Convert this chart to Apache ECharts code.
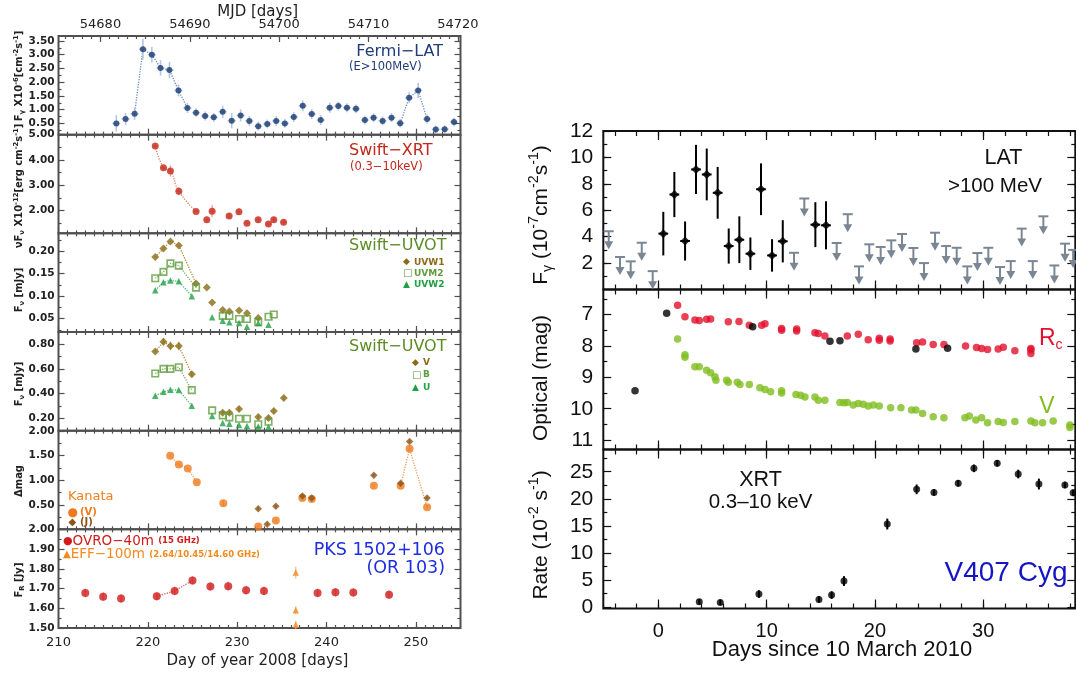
<!DOCTYPE html>
<html><head><meta charset="utf-8">
<script src="https://cdn.jsdelivr.net/npm/echarts@6/dist/echarts.min.js"></script>
<style>html,body{margin:0;padding:0;background:#fff}#c{width:1076px;height:677px}</style>
</head><body><div id="c"></div>
<script>
// ================= LEFT FIGURE : PKS 1502+106 (x = day of year 2008) =================
const fermiDay  = [216.47,217.51,218.52,219.45,220.45,221.42,222.42,223.43,224.43,225.40,226.41,227.38,228.38,229.39,230.39,231.36,232.36,233.37,234.37,235.34,236.34,237.34,238.35,239.35,240.36,241.33,242.29,243.30,244.30,245.27,246.28,247.28,248.25,249.25,250.26,251.26,252.23,253.23,254.27];
const fermiFlux = [0.50,0.66,0.85,3.20,3.00,2.52,2.44,1.70,1.06,0.89,0.77,0.72,0.92,0.60,0.79,0.59,0.40,0.48,0.59,0.50,0.73,1.14,0.84,0.62,1.07,1.13,1.07,1.03,0.62,0.71,0.59,0.71,0.51,1.43,1.70,0.66,0.28,0.29,0.55];
const fermiErr  = [0.30,0.22,0.22,0.38,0.28,0.28,0.30,0.22,0.18,0.16,0.16,0.16,0.22,0.28,0.22,0.18,0.16,0.16,0.18,0.16,0.18,0.20,0.18,0.18,0.18,0.16,0.16,0.16,0.16,0.16,0.16,0.16,0.16,0.20,0.28,0.16,0.14,0.14,0.16];

const xrtDay  = [220.83,221.75,222.53,223.47,225.40,226.60,227.20,229.10,230.20,231.10,232.35,233.50,234.10,235.20];
const xrtFlux = [4.55,3.69,3.56,2.76,1.96,1.63,1.97,1.78,1.95,1.49,1.63,1.46,1.63,1.53];
const xrtErr  = [0.08,0.08,0.22,0.16,0.06,0.12,0.24,0.12,0.12,0.10,0.10,0.10,0.12,0.10];

const uvw1Day = [220.83,221.75,222.53,223.47,225.40,226.60,227.20,228.38,229.13,230.21,231.10,232.36];
const uvw1    = [0.187,0.206,0.222,0.213,0.128,0.119,0.086,0.069,0.066,0.068,0.062,0.051];
const uvm2Day = [220.83,221.75,222.53,223.47,225.40,228.38,229.13,230.21,231.10,232.36,233.51,234.10];
const uvm2    = [0.140,0.154,0.173,0.168,0.119,0.056,0.056,0.049,0.049,0.042,0.054,0.059];
const uvw2Day = [220.83,221.75,222.53,223.47,224.92,227.20,228.38,229.13,230.21,231.10,232.36,233.51];
const uvw2    = [0.113,0.131,0.135,0.133,0.100,0.053,0.045,0.042,0.040,0.032,0.040,0.036];

const uvVDay = [220.83,221.75,222.53,223.47,224.92,228.38,229.13,230.21,232.36,233.51,234.10,235.22];
const uvV    = [0.741,0.821,0.787,0.787,0.558,0.246,0.246,0.275,0.211,0.203,0.259,0.364];
const uvVErr = [0.012,0.030,0.035,0.035,0.020,0.015,0.015,0.020,0.020,0.020,0.015,0.015];
const uvBDay = [220.83,221.75,222.53,223.47,224.92,227.20,228.38,229.13,230.21,231.10,232.36,233.51];
const uvB    = [0.563,0.601,0.601,0.614,0.429,0.265,0.224,0.208,0.197,0.197,0.152,0.173];
const uvUDay = [220.83,221.75,222.53,223.47,224.92,227.20,228.38,229.13,230.21,231.10,232.36,233.51];
const uvU    = [0.383,0.415,0.431,0.429,0.302,0.219,0.162,0.157,0.146,0.138,0.133,0.130];

const kanVDay = [222.50,223.47,224.47,225.48,228.45,232.36,234.33,237.30,238.35,245.30,248.30,249.30,251.26];
const kanV    = [1.50,1.32,1.24,0.96,0.53,0.06,0.18,0.64,0.62,0.89,0.89,1.64,0.45];
const kanVErr = [0.02,0.02,0.02,0.02,0.06,0.04,0.03,0.03,0.03,0.03,0.03,0.05,0.03];
const kanJDay = [232.36,233.36,234.33,237.30,238.35,245.30,248.30,249.30,251.26];
const kanJ    = [0.42,0.105,0.47,0.68,0.64,1.10,0.94,1.79,0.64];
const kanJErr = [0.03,0.03,0.03,0.03,0.03,0.03,0.03,0.03,0.03];

const ovroDay  = [213,215,217,221,223,225,227,229,231,233,239,241,243,247];
const ovroFlux = [1.678,1.659,1.649,1.661,1.688,1.741,1.710,1.712,1.692,1.688,1.678,1.681,1.680,1.669];
const ovroErr  = [0.022,0.022,0.022,0.022,0.022,0.022,0.022,0.022,0.022,0.022,0.022,0.022,0.022,0.022];
const effDay   = [236.56,236.56,236.56];
const effFlux  = [1.781,1.590,1.517];
const effErr   = [0.030,0.020,0.020];

// tick labels (left)
const doyTicks = [210,220,230,240,250];
const mjdTicks = [54680,54690,54700,54710,54720];
const leftYTicks = [[0.5,1,1.5,2,2.5,3,3.5],[2,3,4,5],[0.05,0.10,0.15,0.20],[0.2,0.4,0.6,0.8],[0.5,1,1.5,2],[1.5,1.6,1.7,1.8,1.9,2.0]];
const leftYRange = [[0.09,3.68],[1.09,5.0],[0.02,0.24],[0.10,0.90],[0.0,2.01],[1.5,2.0]];

// ================= RIGHT FIGURE : V407 Cyg (x = days since 10 March 2010) =================
const latDay  = [0.46,1.48,2.47,3.48,4.47,5.48,6.50,7.48,8.50,9.48,10.50,11.49,14.50,15.48];
const latFlux = [4.23,7.19,3.67,9.09,8.71,7.32,3.29,3.77,2.71,7.59,2.58,3.65,4.91,4.86];
const latErr  = [1.65,1.71,1.48,1.86,1.96,1.96,1.33,1.77,1.23,1.96,1.23,1.60,1.70,1.82];
const ulDay   = [-4.58,-3.54,-2.55,-1.53,-0.52,12.53,13.48,16.47,17.49,18.53,19.48,20.53,21.51,22.50,23.55,24.53,25.55,26.57,27.55,28.53,29.46,30.47,31.55,32.54,33.55,34.57,35.55,36.57,37.55,38.30];
const ulFlux  = [4.41,2.46,2.13,3.54,1.39,2.78,6.89,3.52,5.70,1.75,3.42,3.22,3.72,4.20,3.14,2.00,4.30,3.29,3.16,1.75,2.76,3.16,1.70,2.15,4.61,2.15,5.54,1.82,3.47,3.00];

const othDay = [-2.15,0.77,8.71,15.85,16.77,23.78,26.71];
const othMag = [9.43,6.96,7.39,7.85,7.83,8.10,8.07];
const rcDay = [1.78,2.46,3.38,3.78,4.46,4.83,6.46,7.45,8.40,9.54,9.85,11.38,11.38,12.77,12.77,14.46,14.77,15.38,17.45,18.46,19.38,20.40,20.40,21.40,21.40,23.85,24.40,25.38,26.37,28.37,29.38,29.85,30.40,31.38,31.85,32.92,34.40,34.40,34.40];
const rcMag = [6.70,7.07,7.17,7.19,7.15,7.14,7.23,7.22,7.34,7.34,7.29,7.44,7.50,7.46,7.52,7.58,7.60,7.68,7.68,7.63,7.80,7.75,7.82,7.78,7.84,7.90,7.87,7.95,7.95,8.00,8.05,8.08,8.11,8.10,8.04,8.15,8.08,8.13,8.24];
const optVDay = [1.78,2.46,2.46,3.38,3.78,4.46,4.83,5.23,5.32,6.31,6.46,7.29,7.54,8.40,9.38,9.85,10.37,11.38,11.38,12.71,13.14,13.54,14.46,14.77,15.38,16.77,17.14,17.45,18.00,18.46,18.92,19.38,19.85,20.40,21.45,22.40,23.38,23.78,24.40,25.38,26.37,28.31,28.71,29.32,29.85,30.40,31.38,31.85,32.92,34.40,34.77,35.48,36.46,38.00,38.00];
const optVMag = [7.78,8.28,8.36,8.66,8.66,8.77,8.85,8.98,9.09,9.09,9.16,9.16,9.23,9.23,9.33,9.39,9.46,9.43,9.50,9.55,9.57,9.63,9.63,9.73,9.73,9.80,9.81,9.80,9.88,9.83,9.86,9.91,9.88,9.91,9.97,9.97,10.04,10.04,10.15,10.26,10.29,10.29,10.23,10.36,10.29,10.45,10.41,10.44,10.41,10.39,10.45,10.45,10.39,10.52,10.60];

const xrt2Day  = [3.78,5.72,9.29,14.83,16.00,17.14,21.14,23.85,25.45,27.69,29.14,31.29,33.23,35.14,37.54,38.30];
const xrt2Rate = [1.00,0.88,2.42,1.43,2.23,4.82,15.34,21.74,21.18,22.85,25.62,26.54,24.57,22.72,22.54,21.10];
const xrt2Err  = [0.5,0.5,0.7,0.6,0.7,0.9,1.0,0.9,0.6,0.6,0.7,0.6,0.8,1.0,0.6,0.6];

// tick labels (right)
const dayTicks = [0,10,20,30];
const rightYTicks = [[2,4,6,8,10,12],[7,8,9,10,11],[0,5,10,15,20,25]];
const rightYRange = [[0,12],[6.2,11.3],[-0.25,29.1]];

// ================= LAYOUT / STYLE =================
const FL = 'DejaVu Sans', FR = 'Liberation Sans';
const LCOL = '#505050', RCOL = '#111';
const MJD_OFF = 54465.3;
const L_LEFT = 58.5, L_W = 402, L_TOP = 36, L_H = 98.67;
const R_LEFT = 603.3, R_W = 472, R_TOPS = [131, 289.5, 449.5], R_HS = [158.5, 160, 159];
const R_XMIN = -5.08, R_XMAX = 38.5;

const grids = [], xAxis = [], yAxis = [];
function range(a, b, s) { const r = []; for (let v = a; v <= b + 1e-9; v += s) r.push(+v.toFixed(4)); return r; }
function pushPair(list, base, major, minor, majLen, minLen, color, lab) {
  const i = list.length;
  list.push(Object.assign({type:'value', axisLine:{show:false, onZero:false}, splitLine:{show:false},
    axisTick:{show:true, inside:true, length:majLen, customValues:major, lineStyle:{color, width:1.2}},
    axisLabel: lab ? Object.assign({show:true, customValues:lab.values}, lab.style) : {show:false}}, base));
  list.push(Object.assign({type:'value', axisLine:{show:false, onZero:false}, splitLine:{show:false},
    axisTick:{show:true, inside:true, length:minLen, customValues:minor, lineStyle:{color, width:1.2}},
    axisLabel:{show:false}}, base));
  return i;
}
const leftAx = [], rightAx = [];
for (let p = 0; p < 6; p++) {
  grids.push({left:L_LEFT, top:L_TOP + p*L_H, width:L_W, height:L_H, show:true, borderColor:LCOL, borderWidth:2, backgroundColor:'transparent'});
  const xb = pushPair(xAxis, {gridIndex:p, position:'bottom', min:210, max:255}, doyTicks, range(211,254,1), 6, 3, LCOL,
    p === 5 ? {values:doyTicks, style:{fontFamily:FL, fontSize:13, color:'#222', margin:8, formatter:v=>String(Math.round(v))}} : null);
  if (p === 0) {
    pushPair(xAxis, {gridIndex:p, position:'top', min:210+MJD_OFF, max:255+MJD_OFF}, mjdTicks, range(54676,54720,1), 6, 3, LCOL,
      {values:mjdTicks, style:{fontFamily:FL, fontSize:13, color:'#222', margin:5, formatter:v=>String(Math.round(v))}});
  } else {
    pushPair(xAxis, {gridIndex:p, position:'top', min:210, max:255}, doyTicks, range(211,254,1), 6, 3, LCOL, null);
  }
  const mj = leftYTicks[p], st = mj[1]-mj[0];
  const mn = []; mj.forEach(v => { [v-st/2, v+st/2].forEach(w => { if (w > leftYRange[p][0] && w < leftYRange[p][1] && mn.indexOf(+w.toFixed(4)) < 0) mn.push(+w.toFixed(4)); }); });
  const yl = pushPair(yAxis, {gridIndex:p, position:'left', min:leftYRange[p][0], max:leftYRange[p][1]}, mj, mn, 6, 3, LCOL,
    {values:mj, style:{fontFamily:FL, fontWeight:'bold', fontSize:10.5, color:'#222', margin:4, formatter:v=>v.toFixed(2)}});
  pushPair(yAxis, {gridIndex:p, position:'right', min:leftYRange[p][0], max:leftYRange[p][1]}, mj, mn, 6, 3, LCOL, null);
  leftAx.push({x:xb, y:yl});
}
const rMinorY = [range(1,11,1), range(6.5,10.5,1), range(2.5,27.5,5)];
for (let q = 0; q < 3; q++) {
  const g = 6 + q;
  grids.push({left:R_LEFT, top:R_TOPS[q], width:R_W, height:R_HS[q], show:true, borderColor:RCOL, borderWidth:2, backgroundColor:'transparent'});
  const xb = pushPair(xAxis, {gridIndex:g, position:'bottom', min:R_XMIN, max:R_XMAX}, dayTicks, range(-4,38,2), 9, 5, RCOL,
    q === 2 ? {values:dayTicks, style:{fontFamily:FR, fontSize:20, color:'#111', margin:13, formatter:v=>String(Math.round(v))}} : null);
  pushPair(xAxis, {gridIndex:g, position:'top', min:R_XMIN, max:R_XMAX}, dayTicks, range(-4,38,2), 9, 5, RCOL, null);
  const yl = pushPair(yAxis, {gridIndex:g, position:'left', min:rightYRange[q][0], max:rightYRange[q][1], inverse: q === 1}, rightYTicks[q], rMinorY[q], 8, 4, RCOL,
    {values:rightYTicks[q], style:{fontFamily:FR, fontSize:21, color:'#111', margin:10, formatter:v=>String(v)}});
  pushPair(yAxis, {gridIndex:g, position:'right', min:rightYRange[q][0], max:rightYRange[q][1], inverse: q === 1}, rightYTicks[q], rMinorY[q], 8, 4, RCOL, null);
  rightAx.push({x:xb, y:yl});
}

// ================= SERIES HELPERS =================
const series = [];
function pts(xs, ys) { return xs.map((x, i) => [x, ys[i]]); }
function scatter(ax, xs, ys, symbol, size, itemStyle, z) {
  series.push({type:'scatter', xAxisIndex:ax.x, yAxisIndex:ax.y, data:pts(xs, ys), symbol, symbolSize:size, itemStyle, silent:true, animation:false, z:z||4});
}
function dotted(ax, xs, ys, color, smooth) {
  series.push({type:'line', xAxisIndex:ax.x, yAxisIndex:ax.y, data:pts(xs, ys), symbol:'none', smooth:!!smooth, silent:true, animation:false, z:2,
    lineStyle:{type:'dotted', color, width:1.3}});
}
function errs(ax, xs, ys, es, exHalf, color, w) {
  series.push({type:'custom', xAxisIndex:ax.x, yAxisIndex:ax.y, silent:true, animation:false, z:3,
    data: xs.map((x, i) => [x, ys[i], es ? es[i] : 0]),
    renderItem: (params, api) => {
      const x = api.value(0), y = api.value(1), e = api.value(2), ch = [];
      if (e > 0) { const a = api.coord([x, y - e]), b = api.coord([x, y + e]);
        ch.push({type:'line', shape:{x1:a[0], y1:a[1], x2:b[0], y2:b[1]}, style:{stroke:color, lineWidth:w}}); }
      if (exHalf > 0) { const a = api.coord([x - exHalf, y]), b = api.coord([x + exHalf, y]);
        ch.push({type:'line', shape:{x1:a[0], y1:a[1], x2:b[0], y2:b[1]}, style:{stroke:color, lineWidth:w}}); }
      return {type:'group', children:ch};
    }});
}

// ---- left panels ----
const A = leftAx;
// Fermi
errs(A[0], fermiDay, fermiFlux, fermiErr, 0.45, '#b4c6e4', 1.6);
dotted(A[0], fermiDay.slice(2, 9), fermiFlux.slice(2, 9), '#6f8fc4');
dotted(A[0], fermiDay.slice(32, 36), fermiFlux.slice(32, 36), '#6f8fc4');
scatter(A[0], fermiDay, fermiFlux, 'circle', 6, {color:'#173a6e'});
// XRT
errs(A[1], xrtDay, xrtFlux, xrtErr, 0.3, '#eaa898', 1.4);
dotted(A[1], xrtDay.slice(0, 5), xrtFlux.slice(0, 5), '#e08070', true);
scatter(A[1], xrtDay, xrtFlux, 'circle', 7, {color:'#c8281c'});
// UVOT UV
dotted(A[2], uvw1Day.slice(0, 5), uvw1.slice(0, 5), '#b09040');
dotted(A[2], uvm2Day.slice(0, 5), uvm2.slice(0, 5), '#80b060');
dotted(A[2], uvw2Day.slice(0, 5), uvw2.slice(0, 5), '#50b870');
scatter(A[2], uvw1Day, uvw1, 'diamond', 8, {color:'#8a6a14'});
scatter(A[2], uvm2Day, uvm2, 'rect', 6.5, {color:'rgba(255,255,255,0)', borderColor:'#5f9c3c', borderWidth:1.6});
scatter(A[2], uvw2Day, uvw2, 'triangle', 6.5, {color:'#1fa044'});
// UVOT optical
errs(A[3], uvVDay, uvV, uvVErr, 0, '#c8b080', 1.4);
dotted(A[3], uvVDay.slice(0, 5), uvV.slice(0, 5), '#b09040');
dotted(A[3], uvBDay.slice(0, 5), uvB.slice(0, 5), '#80b060');
dotted(A[3], uvUDay.slice(0, 5), uvU.slice(0, 5), '#50b870');
scatter(A[3], uvVDay, uvV, 'diamond', 8, {color:'#8a6a14'});
scatter(A[3], uvBDay, uvB, 'rect', 6.5, {color:'rgba(255,255,255,0)', borderColor:'#5f9c3c', borderWidth:1.6});
scatter(A[3], uvUDay, uvU, 'triangle', 6.5, {color:'#1fa044'});
// Kanata
errs(A[4], kanVDay, kanV, kanVErr, 0, '#f4b080', 1.4);
errs(A[4], kanJDay, kanJ, kanJErr, 0, '#c09060', 1.4);
dotted(A[4], kanVDay.slice(0, 4), kanV.slice(0, 4), '#f0a060');
dotted(A[4], kanVDay.slice(10, 13), kanV.slice(10, 13), '#f0a060');
scatter(A[4], kanVDay, kanV, 'circle', 8, {color:'#ef7a1c'});
scatter(A[4], kanJDay, kanJ, 'diamond', 7.5, {color:'#8c5418'});
// Radio
errs(A[5], ovroDay, ovroFlux, ovroErr, 0, '#f0a0a0', 1.4);
errs(A[5], effDay, effFlux, effErr, 0, '#f8c090', 1.4);
dotted(A[5], ovroDay.slice(3, 6), ovroFlux.slice(3, 6), '#e06060');
scatter(A[5], ovroDay, ovroFlux, 'circle', 8, {color:'#d01c1c'});
scatter(A[5], effDay, effFlux, 'triangle', 6.5, {color:'#f28a1e'});

// ---- right panels ----
const B = rightAx;
errs(B[0], latDay, latFlux, latErr, 0.45, '#000', 2);
scatter(B[0], latDay, latFlux, 'diamond', 9, {color:'#000'});
series.push({type:'custom', xAxisIndex:B[0].x, yAxisIndex:B[0].y, silent:true, animation:false, z:3,
  data: pts(ulDay, ulFlux),
  renderItem: (params, api) => {
    const p = api.coord([api.value(0), api.value(1)]), c = '#7a8693';
    return {type:'group', children:[
      {type:'line', shape:{x1:p[0]-5, y1:p[1], x2:p[0]+5, y2:p[1]}, style:{stroke:c, lineWidth:2}},
      {type:'line', shape:{x1:p[0], y1:p[1], x2:p[0], y2:p[1]+12}, style:{stroke:c, lineWidth:2}},
      {type:'polygon', shape:{points:[[p[0]-4.5, p[1]+10], [p[0]+4.5, p[1]+10], [p[0], p[1]+18]]}, style:{fill:c}}
    ]};
  }});
scatter(B[1], rcDay, rcMag, 'circle', 7.5, {color:'#e2102c'});
scatter(B[1], optVDay, optVMag, 'circle', 7.5, {color:'#80bd1e'});
scatter(B[1], othDay, othMag, 'circle', 7.5, {color:'#000'}, 5);
errs(B[2], xrt2Day, xrt2Rate, xrt2Err, 0, '#000', 2);
scatter(B[2], xrt2Day, xrt2Rate, 'circle', 7, {color:'#000'});

// ================= TEXTS =================
function txt(x, y, text, o) {
  return {type:'text', x, y, rotation:o.rot || 0, silent:true, z:100,
    style:{text, fill:o.color || '#222', fontSize:o.size, fontFamily:o.family || FL, fontWeight:o.weight || 'normal',
      align:o.align || 'center', textAlign:o.align || 'center', verticalAlign:'middle', textVerticalAlign:'middle', rich:o.rich}};
}
function richSet(size, family, weight, color) {
  return {
    n: {fontSize:size, fontFamily:family, fontWeight:weight, fill:color, lineHeight:size*1.3},
    sp:{fontSize:size*0.68, fontFamily:family, fontWeight:weight, fill:color, lineHeight:size*0.7, verticalAlign:'top'},
    sb:{fontSize:size*0.68, fontFamily:family, fontWeight:weight, fill:color, lineHeight:size*0.7, verticalAlign:'bottom'}
  };
}
const RL = richSet(10, FL, 'bold', '#222');
const RR = richSet(21, FR, 'normal', '#111');
const R90 = Math.PI / 2;
const graphics = [
  txt(257.7, 12.5, 'MJD [days]', {size:15}),
  txt(257.5, 661, 'Day of year 2008 [days]', {size:15}),
  txt(19, 76, '{n|F}{sb|γ}{n| X10}{sp|-6}{n|[cm}{sp|-2}{n|s}{sp|-1}{n|]}', {rot:R90, rich:RL}),
  txt(19, 186, '{n|νF}{sb|ν}{n| X10}{sp|-12}{n|[erg cm}{sp|-2}{n|s}{sp|-1}{n|]}', {rot:R90, rich:RL}),
  txt(19, 290, '{n|F}{sb|ν}{n| [mJy]}', {rot:R90, rich:RL}),
  txt(19, 384, '{n|F}{sb|ν}{n| [mJy]}', {rot:R90, rich:RL}),
  txt(19, 481, '{n|Δmag}', {rot:R90, rich:RL}),
  txt(19, 580, '{n|F}{sb|R}{n| [Jy]}', {rot:R90, rich:RL}),
  txt(443, 52, 'Fermi−LAT', {size:16, color:'#1f3d78', align:'right'}),
  txt(349, 67.5, '(E>100MeV)', {size:11.5, color:'#1f3d78', align:'left'}),
  txt(349, 151, 'Swift−XRT', {size:16, color:'#c0281a', align:'left'}),
  txt(350, 167, '(0.3−10keV)', {size:11.5, color:'#c0281a', align:'left'}),
  txt(349, 246, 'Swift−UVOT', {size:16, color:'#5c8c24', align:'left'}),
  txt(403, 262, '◆', {size:9, color:'#8a6a14', align:'left'}),
  txt(414, 262.5, 'UVW1', {size:9, weight:'bold', color:'#8a6a14', align:'left'}),
  txt(403, 273.5, '□', {size:10, weight:'bold', color:'#5f9c3c', align:'left'}),
  txt(414, 273.5, 'UVM2', {size:9, weight:'bold', color:'#5f9c3c', align:'left'}),
  txt(403, 284.5, '▲', {size:9, color:'#1fa044', align:'left'}),
  txt(414, 284.5, 'UVW2', {size:9, weight:'bold', color:'#1fa044', align:'left'}),
  txt(349, 347, 'Swift−UVOT', {size:16, color:'#5c8c24', align:'left'}),
  txt(412, 362.5, '◆', {size:9, color:'#8a6a14', align:'left'}),
  txt(423, 362.5, 'V', {size:9, weight:'bold', color:'#8a6a14', align:'left'}),
  txt(412, 375, '□', {size:10, weight:'bold', color:'#5f9c3c', align:'left'}),
  txt(423, 375, 'B', {size:9, weight:'bold', color:'#5f9c3c', align:'left'}),
  txt(412, 388, '▲', {size:9, color:'#1fa044', align:'left'}),
  txt(423, 388, 'U', {size:9, weight:'bold', color:'#1fa044', align:'left'}),
  txt(68, 497, 'Kanata', {size:13, color:'#f08020', align:'left'}),
  txt(67.5, 512.5, '●', {size:12, color:'#ef7a1c', align:'left'}),
  txt(80, 512.5, '(V)', {size:10, weight:'bold', color:'#ef7a1c', align:'left'}),
  txt(68.5, 522, '◆', {size:10, color:'#8c5418', align:'left'}),
  txt(80, 522, '(J)', {size:10, weight:'bold', color:'#8c5418', align:'left'}),
  txt(63, 541, '{s|●}{a|OVRO−40m }{b|(15 GHz)}', {align:'left', rich:{
    s:{fontSize:11, fontFamily:FL, fill:'#d01c1c'}, a:{fontSize:13.5, fontFamily:FL, fill:'#d01c1c'}, b:{fontSize:8.5, fontFamily:FL, fontWeight:'bold', fill:'#d01c1c'}}}),
  txt(63, 554.5, '{s|▲}{a|EFF−100m }{b|(2.64/10.45/14.60 GHz)}', {align:'left', rich:{
    s:{fontSize:10, fontFamily:FL, fill:'#f28a1e'}, a:{fontSize:13.5, fontFamily:FL, fill:'#f28a1e'}, b:{fontSize:8.5, fontFamily:FL, fontWeight:'bold', fill:'#f28a1e'}}}),
  txt(445, 550, 'PKS 1502+106', {size:17.5, color:'#1e2ee0', align:'right'}),
  txt(445, 568.5, '(OR 103)', {size:17.5, color:'#1e2ee0', align:'right'}),
  // right figure
  txt(541, 215, '{n|F}{sb|γ}{n| (10}{sp|-7}{n|cm}{sp|-2}{n|s}{sp|-1}{n|)}', {rot:R90, rich:RR}),
  txt(541, 378, 'Optical (mag)', {rot:R90, size:21, family:FR, color:'#111'}),
  txt(541, 535, '{n|Rate (10}{sp|-2}{n| s}{sp|-1}{n|)}', {rot:R90, rich:RR}),
  txt(842, 650, 'Days since 10 March 2010', {size:22, family:FR, color:'#111'}),
  txt(1003.5, 158.5, 'LAT', {size:21.5, family:FR, color:'#111'}),
  txt(995, 186, '>100 MeV', {size:20.5, family:FR, color:'#111'}),
  txt(760.5, 480, 'XRT', {size:21.5, family:FR, color:'#111'}),
  txt(760.5, 502, '0.3–10 keV', {size:20.5, family:FR, color:'#111'}),
  txt(1006, 573, 'V407 Cyg', {size:28, family:FR, color:'#1515c4'}),
  txt(1039, 339, '{n|R}{sb|c}', {align:'left', rich:{
    n:{fontSize:23, fontFamily:FR, fill:'#e2102c', lineHeight:26}, sb:{fontSize:14, fontFamily:FR, fill:'#e2102c', lineHeight:14, verticalAlign:'bottom'}}}),
  txt(1047, 406.5, 'V', {size:23, family:FR, color:'#80bd1e'})
];

const chart = echarts.init(document.getElementById('c'), null, {renderer:'canvas'});
chart.setOption({animation:false, backgroundColor:'#fff', grid:grids, xAxis, yAxis, series, graphic:{elements:graphics}});
</script></body></html>
